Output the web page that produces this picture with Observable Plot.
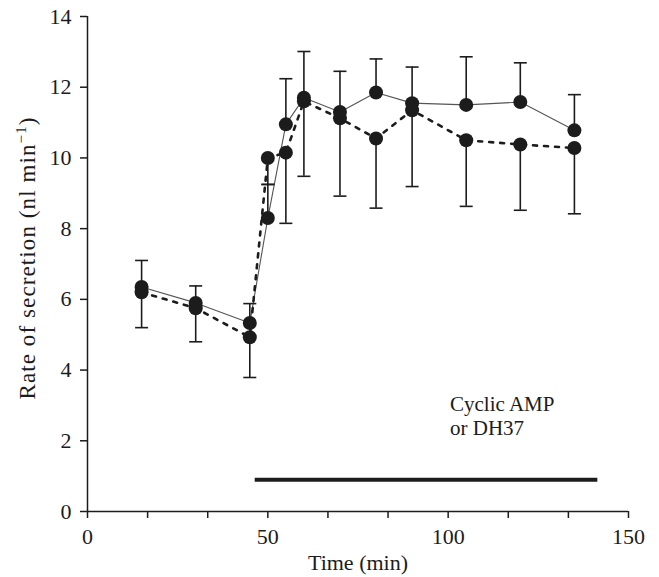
<!DOCTYPE html>
<html><head><meta charset="utf-8">
<script src="https://cdn.jsdelivr.net/npm/d3@7"></script>
<script src="https://cdn.jsdelivr.net/npm/@observablehq/plot@0.6"></script>
<style>html,body{margin:0;padding:0;background:#fff}svg{display:block}</style>
</head><body><div id="chart"></div>
<script>
// Time points (min)
const times   = [15, 30, 45, 50, 55, 60, 70, 80, 90, 105, 120, 135];
// Series with solid line (error bars up)
const seriesA = [6.35, 5.9, 5.33, 8.3, 10.95, 11.7, 11.3, 11.85, 11.55, 11.5, 11.58, 10.78];
const errA    = [0.75, 0.48, 0.55, 0.95, 1.29, 1.31, 1.15, 0.95, 1.02, 1.36, 1.11, 1.01];
// Series with dotted line (error bars down)
const seriesB = [6.2, 5.75, 4.93, 10.0, 10.15, 11.6, 11.12, 10.55, 11.35, 10.5, 10.38, 10.28];
const errB    = [1.0, 0.95, 1.14, 0.75, 2.0, 2.12, 2.2, 1.97, 2.16, 1.87, 1.86, 1.86];
// Treatment period bar
const treatStart = [46.5];
const treatEnd   = [141.5];
const treatLevel = [0.9];
const treatText  = ["Cyclic AMP", "or DH37"];
const treatTextX = [100.5, 100.5];
const treatTextY = [3.02, 2.36];
// Axes
const xTicks = [0, 50/3, 100/3, 50, 200/3, 250/3, 100, 350/3, 400/3, 150];
const xTickLabels = [0, 50, 100, 150];
const yTicks = [0, 2, 4, 6, 8, 10, 12, 14];

const rows = times.map((t, i) => ({time: t, a: seriesA[i], ea: errA[i], b: seriesB[i], eb: errB[i]}));
const treat = treatStart.map((s, i) => ({start: s, end: treatEnd[i], y: treatLevel[i]}));
const annot = treatText.map((t, i) => ({text: t, x: treatTextX[i], y: treatTextY[i]}));

const ink = "#1c1c1c";
const cap = {draw(ctx) { ctx.moveTo(-6.5, 0); ctx.lineTo(6.5, 0); }};

const chart = Plot.plot({
  width: 659, height: 577,
  marginLeft: 87, marginRight: 31, marginTop: 16, marginBottom: 66,
  style: {fontFamily: "'Liberation Serif', 'Times New Roman', serif", color: ink, background: "#fff", overflow: "visible"},
  x: {domain: [0, 150]},
  y: {domain: [0, 14]},
  marks: [
    Plot.axisX({ticks: xTicks, tickFormat: d => xTickLabels.includes(d) ? String(d) : "",
      tickSize: 7, tickPadding: 10, fontSize: 22, strokeWidth: 1.5,
      label: "Time (min)", labelAnchor: "center", labelArrow: "none", labelOffset: 58}),
    Plot.axisY({ticks: yTicks, tickSize: 7, tickPadding: 9, fontSize: 22, strokeWidth: 1.5, label: null}),
    Plot.ruleX([0], {stroke: ink, strokeWidth: 1.5}),
    Plot.ruleY([0], {stroke: ink, strokeWidth: 1.5}),
    Plot.line(rows, {x: "time", y: "a", stroke: "#555", strokeWidth: 1.1}),
    Plot.line(rows, {x: "time", y: "b", stroke: ink, strokeWidth: 2.6, strokeDasharray: "4,7"}),
    Plot.ruleX(rows, {x: "time", y1: "a", y2: d => d.a + d.ea, stroke: ink, strokeWidth: 1.6}),
    Plot.ruleX(rows, {x: "time", y1: "b", y2: d => d.b - d.eb, stroke: ink, strokeWidth: 1.6}),
    Plot.dot(rows, {x: "time", y: d => d.a + d.ea, symbol: cap, r: 7, fill: "none", stroke: ink, strokeWidth: 1.6}),
    Plot.dot(rows, {x: "time", y: d => d.b - d.eb, symbol: cap, r: 7, fill: "none", stroke: ink, strokeWidth: 1.6}),
    Plot.dot(rows, {x: "time", y: "b", r: 7, fill: ink, stroke: "none"}),
    Plot.dot(rows, {x: "time", y: "a", r: 7, fill: ink, stroke: "none"}),
    Plot.ruleY(treat, {y: "y", x1: "start", x2: "end", stroke: ink, strokeWidth: 4}),
    Plot.text(annot, {x: "x", y: "y", text: "text", textAnchor: "start", fontSize: 21, fill: ink})
  ]
});

// y-axis title with a real superscript
const svg = d3.select(chart);
const t = svg.append("text")
  .attr("transform", "translate(35,258) rotate(-90)")
  .attr("text-anchor", "middle")
  .attr("font-family", "'Liberation Serif', 'Times New Roman', serif")
  .attr("font-size", 23)
  .attr("letter-spacing", 1.1)
  .attr("fill", ink);
t.append("tspan").text("Rate of secretion (nl min");
t.append("tspan").attr("font-size", 15).attr("dy", -9).text("\u22121");
t.append("tspan").attr("dy", 9).text(")");

document.getElementById("chart").appendChild(chart);
</script>
</body></html>
